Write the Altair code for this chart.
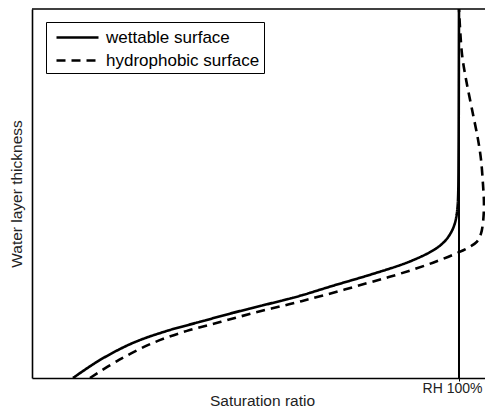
import altair as alt
import pandas as pd

# Saturation ratio (RH 100% = 1.0) and water layer thickness (relative units)
wet_x = [0.0960, 0.1593, 0.2365, 0.3162, 0.3934, 0.4707, 0.5504, 0.6276, 0.7049, 0.7845,
         0.8618, 0.8923, 0.9321, 0.9555, 0.9719, 0.9859, 0.9930, 0.9965, 0.9981, 0.9991,
         0.9995, 1.0]
wet_y = [0.0, 0.0489, 0.0951, 0.1277, 0.1522, 0.1766, 0.1997, 0.2228, 0.2500, 0.2772,
         0.3057, 0.3193, 0.3410, 0.3587, 0.3777, 0.4049, 0.4321, 0.4620, 0.4973, 0.6196,
         0.7554, 1.0]

hyd_x = [0.1358, 0.2037, 0.2834, 0.3630, 0.4426, 0.5199, 0.6019, 0.6792, 0.7845, 0.8618,
         0.9391, 1.0, 1.0258, 1.0422, 1.0515, 1.0562, 1.0585, 1.0562, 1.0515, 1.0445,
         1.0304, 1.0164, 1.0070, 1.0]
hyd_y = [0.0, 0.0489, 0.0951, 0.1277, 0.1522, 0.1766, 0.1997, 0.2228, 0.2568, 0.2826,
         0.3125, 0.3410, 0.3560, 0.3696, 0.3913, 0.4212, 0.4701, 0.5245, 0.5924, 0.6467,
         0.7283, 0.8098, 0.8777, 1.0]

series = ["wettable surface", "hydrophobic surface"]
rh_value = [1.0]
rh_label = "RH 100%"
x_max = 1.0609

rows = []
for i, (x, y) in enumerate(zip(wet_x, wet_y)):
    rows.append({"s": series[0], "x": x, "y": y, "i": i})
for i, (x, y) in enumerate(zip(hyd_x, hyd_y)):
    rows.append({"s": series[1], "x": x, "y": y, "i": i})
df = pd.DataFrame(rows)

W, H = 453, 369
FONT = "Liberation Sans"

xscale = alt.Scale(domain=[0, x_max], nice=False, zero=False)
yscale = alt.Scale(domain=[0, 1], nice=False, zero=False)

lines = alt.Chart(df).mark_line(interpolate="catmull-rom", strokeWidth=2.6, color="black").encode(
    x=alt.X("x:Q", scale=xscale,
            axis=alt.Axis(title="Saturation ratio", values=rh_value,
                          labelExpr="'" + rh_label + "'",
                          grid=False, tickSize=3, tickColor="black", tickWidth=1,
                          domainColor="black", domainWidth=1.6, labelFontSize=14,
                          labelColor="#222", labelPadding=11, labelBaseline="alphabetic",
                          labelOffset=-7,
                          titleFontSize=15.5,
                          titleFontWeight="normal", titleColor="#222",
                          titleX=230, titleY=27, titleBaseline="alphabetic",
                          labelFont=FONT, titleFont=FONT)),
    y=alt.Y("y:Q", scale=yscale,
            axis=alt.Axis(title="Water layer thickness", labels=False, ticks=False, grid=False,
                          domainColor="black", domainWidth=1.6, titleFontSize=15.5,
                          titleFontWeight="normal", titleColor="#222", titlePadding=8,
                          titleFont=FONT)),
    strokeDash=alt.StrokeDash("s:N",
                              scale=alt.Scale(domain=series, range=[[1, 0], [9, 6]]),
                              legend=alt.Legend(title=None, orient="none", legendX=14, legendY=13,
                                                fillColor="white", strokeColor="black",
                                                padding=4, labelFontSize=17, labelFont=FONT,
                                                labelColor="black", symbolSize=400,
                                                symbolStrokeWidth=2.6, symbolStrokeColor="black",
                                                symbolType="M-0.5,0H3.7", rowPadding=3,
                                                labelOffset=33)),
    order="i:Q",
)

rh_df = pd.DataFrame({"x": rh_value})
rh = alt.Chart(rh_df).mark_rule(color="black", strokeWidth=2).encode(
    x=alt.X("x:Q", scale=xscale)
)

top = alt.Chart(rh_df).mark_rule(color="black", strokeWidth=1.6).encode(
    x=alt.value(0), x2=alt.value(W), y=alt.value(0)
)

chart = alt.layer(lines, rh, top).properties(
    width=W, height=H,
    autosize=alt.AutoSizeParams(type="none"),
    padding={"left": 24, "top": 1, "right": 0, "bottom": 29},
).configure_view(stroke=None)

chart.save("out.html", embed_options={"renderer": "svg", "actions": False})
